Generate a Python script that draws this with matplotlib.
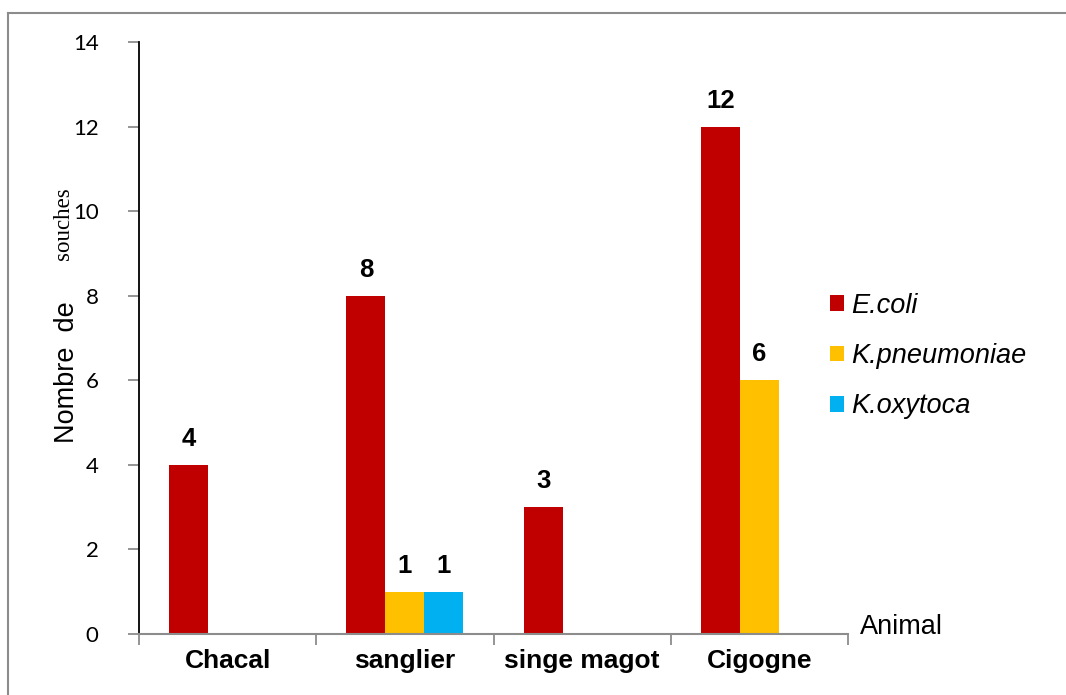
import numpy as np
import matplotlib.pyplot as plt
from matplotlib.lines import Line2D

# Données
animaux = ['Chacal', 'sanglier', 'singe magot', 'Cigogne']
especes = ['E.coli', 'K.pneumoniae', 'K.oxytoca']
e_coli = [4, 8, 3, 12]
k_pneumoniae = [0, 1, 0, 6]
k_oxytoca = [0, 1, 0, 0]
couleurs = ['#C00000', '#FFC000', '#00B0F0']
yticks = [0, 2, 4, 6, 8, 10, 12, 14]

W, H = 1066, 695
fig = plt.figure(figsize=(W / 100, H / 100), dpi=100)
ax = fig.add_axes([139 / W, 1 - 634 / H, (848 - 139) / W, (634 - 42) / H])

x = np.arange(len(animaux))
largeur = 0.22
series = [e_coli, k_pneumoniae, k_oxytoca]
for i, (vals, coul, nom) in enumerate(zip(series, couleurs, especes)):
    bars = ax.bar(x + (i - 1) * largeur, vals, largeur, color=coul, label=nom)
    for b, v in zip(bars, vals):
        if v > 0:
            ax.annotate(str(v), (b.get_x() + b.get_width() / 2, v),
                        xytext=(0, 10), textcoords='offset points',
                        ha='center', va='bottom', fontsize=18.5,
                        fontweight='bold', family='Liberation Sans')

ax.set_xlim(-0.5, 3.5)
ax.set_ylim(0, 14)

# Axe Y
ax.set_yticks(yticks)
ax.set_yticklabels([str(t) for t in yticks], family='Lato', fontsize=16)
ax.tick_params(axis='y', direction='out', length=8, width=1.3, color='#8c8c8c', pad=21)
ax.yaxis.get_major_ticks()[-1].tick1line.set_color('black')

# Axe X : graduations aux limites, étiquettes au centre
ax.set_xticks(np.arange(-0.5, 4, 1))
ax.set_xticklabels([])
ax.set_xticks(x, minor=True)
ax.set_xticklabels(animaux, minor=True, fontsize=19, fontweight='bold',
                   family='Liberation Sans')
ax.tick_params(axis='x', which='major', direction='out', length=8, width=1.3, color='#8c8c8c')
ax.tick_params(axis='x', which='minor', length=0, pad=11)

for s in ['top', 'right']:
    ax.spines[s].set_visible(False)
ax.spines['left'].set_color('black')
ax.spines['left'].set_linewidth(1.3)
ax.spines['bottom'].set_color('#8c8c8c')
ax.spines['bottom'].set_linewidth(1.5)

# Titres des axes
fig.text(67 / W, 1 - 372 / H, 'Nombre  de', rotation=90, ha='center', va='center',
         fontsize=19.5, family='Liberation Sans')
fig.text(63 / W, 1 - 224 / H, 'souches', rotation=90, ha='center', va='center',
         fontsize=16.5, family='Liberation Serif')
fig.text(860 / W, 1 - 627 / H, 'Animal', ha='left', va='center',
         fontsize=19.5, family='Liberation Sans')

# Légende
leg = fig.legend(loc='center left', bbox_to_anchor=(830 / W, 1 - 356 / H),
                 frameon=False, borderpad=0, borderaxespad=0,
                 handlelength=0.52, handleheight=0.52, handletextpad=0.25,
                 labelspacing=0.9,
                 prop={'family': 'Liberation Sans', 'style': 'italic', 'size': 19.5})

# Cadre extérieur (haut et gauche)
fig.add_artist(Line2D([8 / W, 1], [1 - 13 / H, 1 - 13 / H], color='#8c8c8c', lw=1.5))
fig.add_artist(Line2D([8 / W, 8 / W], [0, 1 - 13 / H], color='#8c8c8c', lw=1.5))

fig.savefig('out.png', dpi=100)
